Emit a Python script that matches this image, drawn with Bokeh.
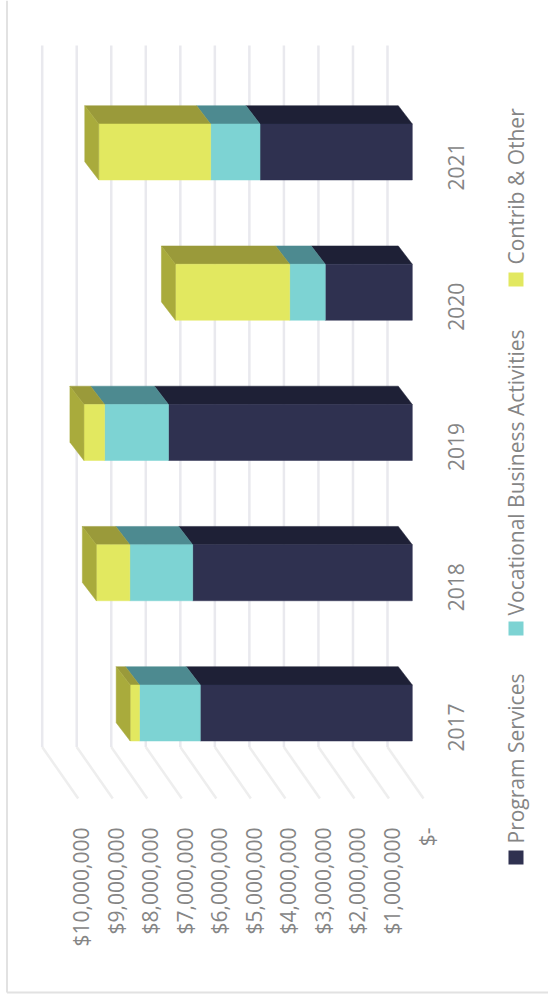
from bokeh.embed import file_html
from bokeh.models import Range1d
from bokeh.plotting import figure
from bokeh.resources import INLINE
from bokeh.core.properties import value
import math

# Revenue by source, in dollars, per fiscal year
years = ["2017", "2018", "2019", "2020", "2021"]
program_services = [6140000, 6360000, 7060000, 2520000, 4410000]
vocational_business = [1760000, 1820000, 1850000, 1030000, 1430000]
contrib_other = [270000, 970000, 600000, 3310000, 3240000]

series_names = ["Program Services", "Vocational Business Activities", "Contrib & Other"]
tick_values = [0, 1000000, 2000000, 3000000, 4000000, 5000000, 6000000, 7000000, 8000000, 9000000, 10000000]
tick_labels = ["$-", "$1,000,000", "$2,000,000", "$3,000,000", "$4,000,000", "$5,000,000",
               "$6,000,000", "$7,000,000", "$8,000,000", "$9,000,000", "$10,000,000"]

FRONT = ["#2f3150", "#7dd3d3", "#e2e860"]
TOP = ["#1e2036", "#4d8a90", "#9a9a3a"]
SIDE = "#a9ab3c"
TEXT = "#858585"
WALL = "#e9e9ee"
FLOOR = "#eeeeee"
FRAME = "#e2e2e2"

W, H = 548, 994
PX_PER_DOLLAR = 34.53e-6
PX_PER_BAND = 140.25
ZERO_PX = 411.8
BAND4_PX = 151.5

# The page is turned a quarter turn: dollars grow leftwards, years grow upwards
x_range = Range1d(ZERO_PX / PX_PER_DOLLAR, (ZERO_PX - W) / PX_PER_DOLLAR)
y_range = Range1d(4 - (H - BAND4_PX) / PX_PER_BAND, 4 + BAND4_PX / PX_PER_BAND)


def dx(px):
    """Horizontal page position as a dollar coordinate."""
    return (ZERO_PX - px) / PX_PER_DOLLAR


def dy(py):
    """Vertical page position as a band coordinate."""
    return 4 + (BAND4_PX - py) / PX_PER_BAND


p = figure(width=W, height=H, x_range=x_range, y_range=y_range, toolbar_location=None,
           output_backend="svg", min_border=0, outline_line_color=None,
           background_fill_color="white", border_fill_color="white")
p.axis.visible = False
p.grid.visible = False

# Outer chart frame
p.line([dx(6.5), dx(6.5)], [dy(0), dy(992)], line_color=FRAME, line_width=2)
p.line([dx(6.5), dx(548)], [dy(992), dy(992)], line_color=FRAME, line_width=2)

# Back wall and floor gridlines
wall_shift = dx(387)
floor_shift = dx(423) - dx(387)
for t in tick_values:
    xw = t + wall_shift
    p.line([xw, xw], [dy(45), dy(746.5)], line_color=WALL, line_width=2.5)
    p.line([xw, xw + floor_shift], [dy(746.5), dy(798)], line_color=FLOOR, line_width=2.5)

# Stacked boxes: front face, top face and the exposed end of the last segment
half = 28.0 / PX_PER_BAND
depth_x = 14.0 / PX_PER_DOLLAR
depth_y = 18.3 / PX_PER_BAND
for i in range(len(years)):
    start = 0
    for k, vals in enumerate([program_services, vocational_business, contrib_other]):
        end = start + vals[i]
        p.patch([start + depth_x, end + depth_x, end, start],
                [i + half + depth_y, i + half + depth_y, i + half, i + half],
                fill_color=TOP[k], line_color=TOP[k], line_width=0.5)
        p.patch([start, end, end, start],
                [i + half, i + half, i - half, i - half],
                fill_color=FRONT[k], line_color=FRONT[k], line_width=0.5)
        start = end
    p.patch([start, start + depth_x, start + depth_x, start],
            [i + half, i + half + depth_y, i - half + depth_y, i - half],
            fill_color=SIDE, line_color=SIDE, line_width=0.5)

font = value("Open Sans")
up = math.pi / 2

# Dollar axis labels
label_shift = dx(426) - dx(ZERO_PX)
p.text([t + label_shift for t in tick_values], [dy(827)] * len(tick_values), text=tick_labels,
       angle=up, text_align="right", text_baseline="middle", text_font=font,
       text_font_size="21px", text_color=TEXT)

# Year labels
p.text([dx(455.5)] * len(years), [i + dy(166) - 4 for i in range(len(years))], text=years,
       angle=up, text_align="center", text_baseline="middle", text_font=font,
       text_font_size="21px", text_color=TEXT)

# Legend
swatch_top = [850, 621, 272]
text_end = [843, 615, 264]
for k, name in enumerate(series_names):
    p.quad(left=[dx(508)], right=[dx(523)], top=[dy(swatch_top[k])], bottom=[dy(swatch_top[k] + 14)],
           fill_color=FRONT[k], line_color=None)
    p.text([dx(515.5)], [dy(text_end[k])], text=[name], angle=up, text_align="left",
           text_baseline="middle", text_font=font, text_font_size="21px", text_color=TEXT)

open("out.html", "w").write(file_html(p, INLINE))
